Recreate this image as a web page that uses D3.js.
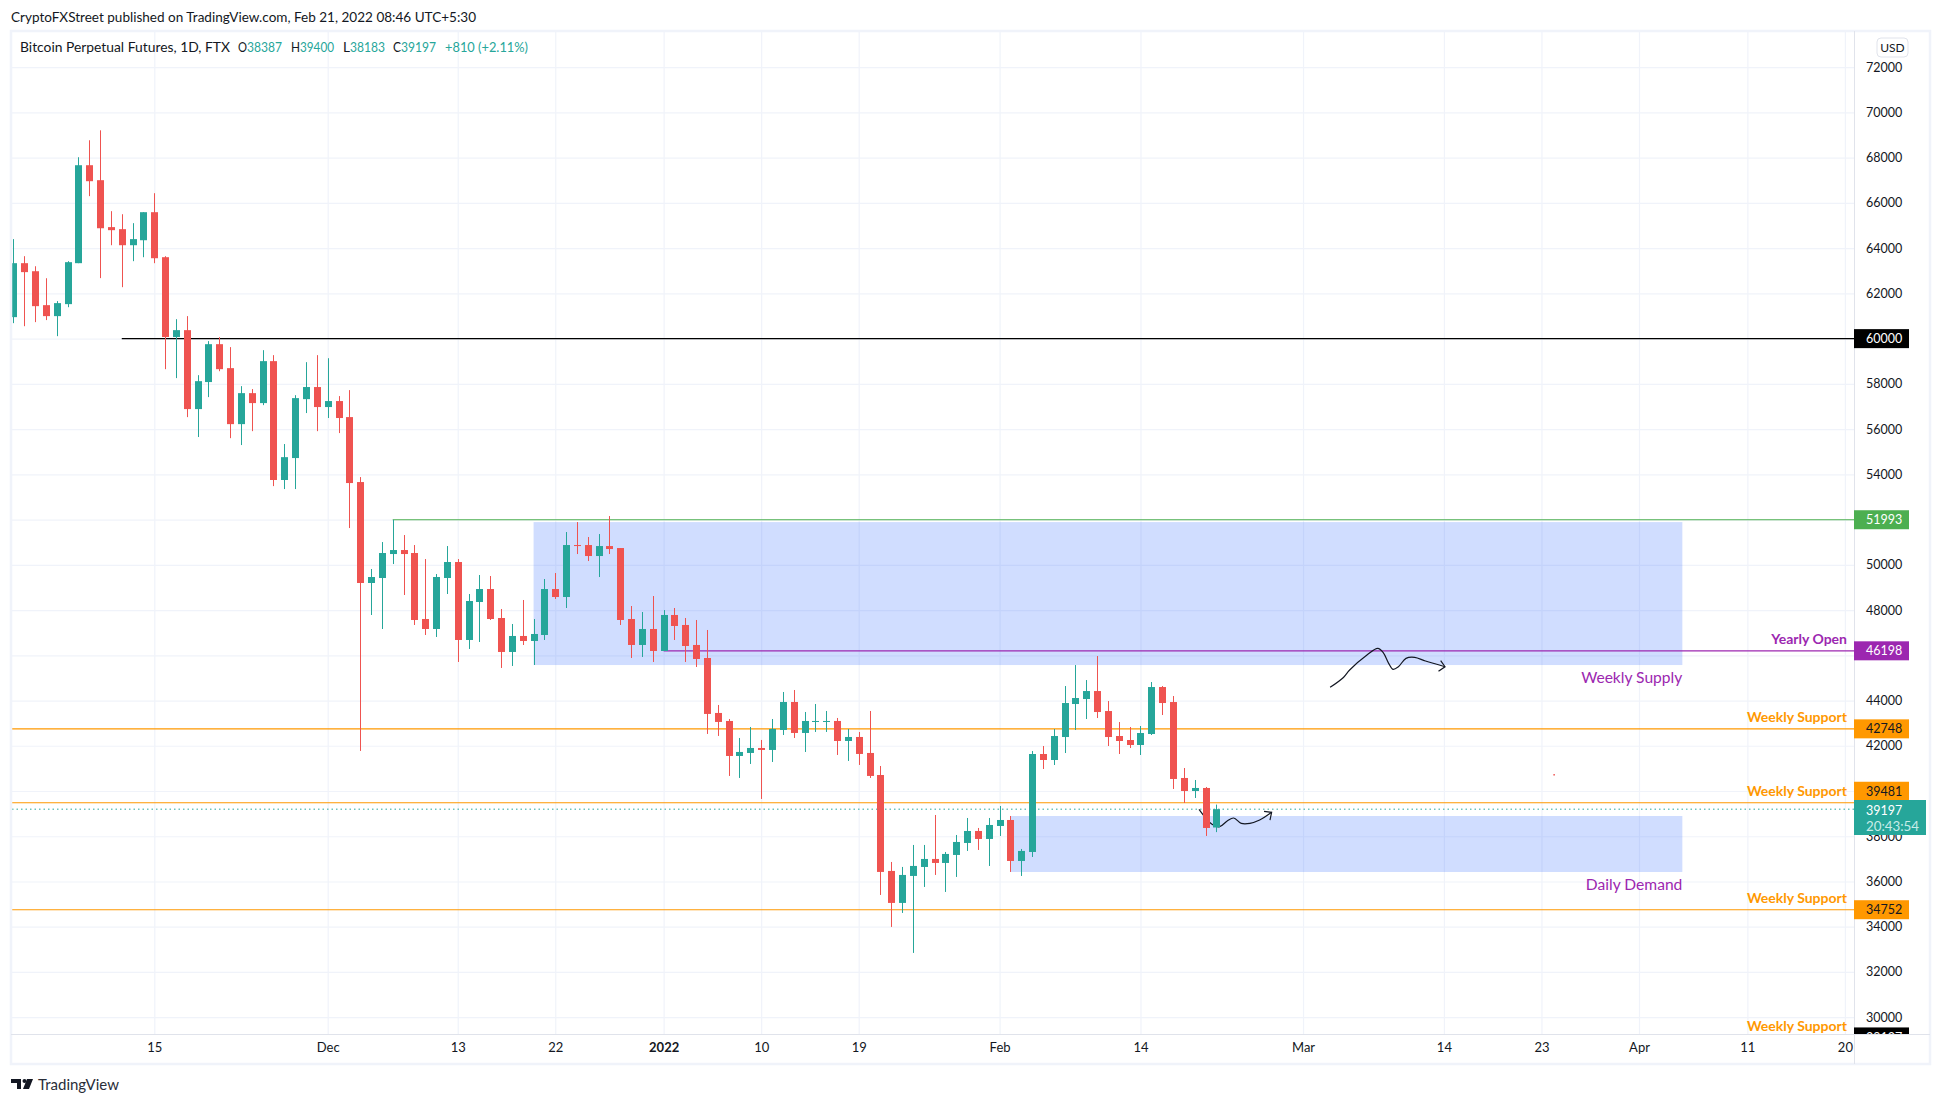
<!DOCTYPE html>
<html>
<head>
<meta charset="utf-8">
<script src="https://cdn.jsdelivr.net/npm/d3@7"></script>
<style>
  html, body { margin: 0; padding: 0; background: #fff; }
  svg { display: block; }
  text { font-family: Lato, "Noto Sans", sans-serif; }
</style>
</head>
<body>
<svg id="chart" width="1941" height="1104"></svg>
<script>
// daily candles, first one is 2 Nov 2021
const firstDay = new Date(Date.UTC(2021, 10, 2));
const opens = [60950,63336,62980,61480,60995,61525,63336,67667,67005,64930,64840,64130,64350,65590,63600,60070,60375,56885,58080,59755,58695,56220,57590,57150,59005,53750,54720,57325,57860,56975,57240,56531,53659,49196,49417,50477,50654,50522,47605,47163,49417,50124,46677,48356,48930,47649,46147,46854,46633,46898,48930,48577,50875,50875,50389,50830,50742,47605,46456,47163,46191,47782,47340,46456,45881,43451,43096,41549,41682,41903,41815,42698,43936,42566,43052,43052,43096,42212,42389,41682,40708,36466,35052,36245,36642,36996,36819,37173,37703,38233,37880,38454,38719,36907,37305,41636,41371,42387,43846,44067,44420,43536,42432,42255,42034,42520,44597,43934,40576,40001,40134,38387];
const closes = [63336,62940,61436,60995,61570,63380,67667,66960,64880,64795,64130,64400,65590,63555,60070,60375,56885,58120,59755,58650,56220,57590,57150,59005,53750,54760,57370,57860,56975,57240,56490,53615,49196,49461,50522,50654,50477,47561,47163,49461,50124,46677,48400,48930,47605,46147,46854,46633,46942,48930,48577,50875,50830,50389,50830,50698,47561,46456,47163,46191,47782,47296,46411,45837,43407,43053,41549,41726,41903,41815,42743,43936,42566,43096,43096,43096,42212,42389,41638,40666,36422,35052,36289,36687,36996,36819,37217,37747,38233,37880,38498,38719,36907,37350,41636,41371,42431,43890,44111,44420,43492,42387,42211,42034,42564,44597,43890,40532,40001,40134,38366,39197];
const highs = [64400,63645,63200,62670,61660,63425,68020,68770,69210,65635,65500,65105,65590,66430,63645,60860,60995,58385,59890,60065,59625,57900,57770,59490,59270,55340,57500,58960,59270,59135,57460,57724,53880,49815,51007,51990,51317,50875,50256,49593,50830,50256,48710,49550,49505,48047,47384,48445,47605,49373,49638,51450,51891,51229,51361,52156,50742,48179,47914,48621,47999,48091,47649,47561,47119,43804,43184,42345,42831,42257,43184,44378,44466,43494,43847,43538,43229,42743,42610,43538,41106,36863,36643,37615,37615,38940,37305,38056,38808,38366,38808,39338,38896,37438,41768,41989,42741,44641,45569,44906,45967,43978,43050,42829,42874,44818,44641,44199,41017,40487,40178,39400];
const lows = [60685,60550,60730,60820,60110,61390,63336,66300,62675,64130,62275,63425,63600,63336,58650,58255,56530,55650,57415,58560,55600,55295,55910,57060,53480,53350,53350,56710,55910,56490,55825,51626,41772,47782,47163,50035,48666,47340,46898,46810,48710,45705,46280,46588,47561,45440,45528,46456,45572,46677,48489,48091,50477,50168,49461,50477,47340,45881,45926,45705,46191,46677,45705,45484,42523,42435,40666,40577,41196,39649,41284,42477,42345,41726,42610,42610,41594,41329,41152,40577,35405,33991,34610,32842,35759,36289,35538,36201,37350,37394,36686,38012,36422,36245,37084,40973,41150,41680,42697,43183,43227,41990,41636,41901,41592,42476,43360,40090,39471,39692,38013,38183];

// axis ticks, the covered ones have no label in the picture
const priceTicks = d3.range(30000, 72001, 2000);
const coveredTicks = [60000, 52000, 46000, 40000];
const timeTickDates = ["2021-11-15","2021-12-01","2021-12-13","2021-12-22","2022-01-01","2022-01-10","2022-01-19","2022-02-01","2022-02-14","2022-03-01","2022-03-14","2022-03-23","2022-04-01","2022-04-11","2022-04-20"];
const timeTickLabels = ["15","Dec","13","22","2022","10","19","Feb","14","Mar","14","23","Apr","11","20"];

// levels, startDay is counted from firstDay
const levelNames = ["60000","51993","46198","42748","39481","34752"];
const levelPrices = [60000,51993,46198,42748,39481,34752];
const levelStartDays = [10,35,60,0,0,0];
const levelColors = ["#000000","#4caf50","#9c27b0","#ff9800","#ff9800","#ff9800"];
const levelTextColors = ["#ffffff","#ffffff","#ffffff","#131722","#131722","#131722"];

// zones as [startDay, endDay, topPrice, bottomPrice]
const zones = [[48,154,51889,45569],[92,154,38895,36420]];
const zoneNames = ["Weekly Supply","Daily Demand"];

// hand drawn arrows as [day, price]
const arrowOne = [[121.5,44583],[122.7,45008],[123.3,45348],[124.9,46011],[125.9,46307],[126.4,46113],[126.9,45644],[127.3,45378],[127.8,45494],[128.5,45864],[129.3,45908],[130.3,45746],[132.1,45494]];
const arrowOneHead = [[131.7,45760],[132.1,45494],[131.5,45290]];
const arrowTwo = [[109.4,39190],[110.6,38528],[111.3,38422],[112,38673],[112.6,38806],[113.3,38572],[114.1,38572],[115,38717],[116.1,39058]];
const arrowTwoHead = [[115.4,39102],[116.1,39058],[115.95,38717]];
const strayDot = [142.1, 40750];

const lastPrice = 39197;
const hiddenLevel = 29127;

const plotLeft = 12, plotRight = 1854, plotTop = 32, plotBottom = 1034;

const dayAt = n => new Date(+firstDay + n * 864e5);
const x = d3.scaleUtc().domain([dayAt(0), dayAt(169)]).range([13.4, 1844.9]);
const y = d3.scaleLinear().domain([30000, 72000]).range([1017.2, 67.2]);

const up = "#26a69a", down = "#ef5350", gridColor = "#f0f3fa", lineColor = "#e0e3eb", textColor = "#131722";
const fontSize = 12.5;

const svg = d3.select("#chart");

svg.append("defs").append("clipPath").attr("id", "plot")
  .append("rect")
  .attr("x", plotLeft).attr("y", plotTop)
  .attr("width", plotRight - plotLeft).attr("height", plotBottom - plotTop);

// title above the frame
svg.append("text").attr("x", 11).attr("y", 22)
  .attr("font-size", 14).attr("fill", "#131722")
  .attr("textLength", 465).attr("lengthAdjust", "spacingAndGlyphs")
  .text("CryptoFXStreet published on TradingView.com, Feb 21, 2022 08:46 UTC+5:30");

// grid, built from the axes
const timeDates = timeTickDates.map(d => new Date(d + "T00:00:00Z"));

svg.append("g").attr("transform", `translate(0,${plotBottom})`)
  .call(d3.axisBottom(x).tickValues(timeDates).tickSize(plotTop - plotBottom).tickFormat(""))
  .call(g => g.select(".domain").remove())
  .call(g => g.selectAll("text").remove())
  .call(g => g.selectAll("line").attr("stroke", gridColor).attr("stroke-width", 1.2));

svg.append("g").attr("transform", `translate(${plotLeft},0)`)
  .call(d3.axisRight(y).tickValues(priceTicks).tickSize(plotRight - plotLeft).tickFormat(""))
  .call(g => g.select(".domain").remove())
  .call(g => g.selectAll("text").remove())
  .call(g => g.selectAll("line").attr("stroke", gridColor).attr("stroke-width", 1.2));

const plot = svg.append("g").attr("clip-path", "url(#plot)");

// blue zones
plot.selectAll(".zone").data(zones).enter().append("rect")
  .attr("class", "zone")
  .attr("x", d => x(dayAt(d[0])))
  .attr("y", d => y(d[2]))
  .attr("width", d => x(dayAt(d[1])) - x(dayAt(d[0])))
  .attr("height", d => y(d[3]) - y(d[2]))
  .attr("fill", "#2962ff").attr("fill-opacity", 0.22);

// horizontal levels
plot.selectAll(".level").data(levelPrices).enter().append("line")
  .attr("class", "level")
  .attr("x1", (d, i) => levelStartDays[i] ? x(dayAt(levelStartDays[i])) : plotLeft)
  .attr("x2", plotRight)
  .attr("y1", d => y(d)).attr("y2", d => y(d))
  .attr("stroke", (d, i) => levelColors[i]).attr("stroke-width", 1.15);

// last price dotted line
plot.append("line")
  .attr("x1", plotLeft).attr("x2", plotRight)
  .attr("y1", y(lastPrice)).attr("y2", y(lastPrice))
  .attr("stroke", up).attr("stroke-width", 1).attr("stroke-dasharray", "1.5 3");

// hand drawn arrows
const arrowLine = d3.line().x(d => x(dayAt(d[0]))).y(d => y(d[1])).curve(d3.curveCatmullRom);
const straightLine = d3.line().x(d => x(dayAt(d[0]))).y(d => y(d[1]));
[arrowOne, arrowTwo].forEach(pts => {
  plot.append("path").attr("d", arrowLine(pts))
    .attr("fill", "none").attr("stroke", "#131722").attr("stroke-width", 1.2);
});
[arrowOneHead, arrowTwoHead].forEach(pts => {
  plot.append("path").attr("d", straightLine(pts))
    .attr("fill", "none").attr("stroke", "#131722").attr("stroke-width", 1.2);
});
plot.append("rect")
  .attr("x", x(dayAt(strayDot[0]))).attr("y", y(strayDot[1]))
  .attr("width", 1.5).attr("height", 1.5).attr("fill", down);

// candles
const candles = plot.selectAll(".candle").data(opens).enter().append("g").attr("class", "candle");
const cx = i => Math.round(x(dayAt(i)));

candles.append("rect")
  .attr("x", (d, i) => cx(i))
  .attr("y", (d, i) => y(highs[i]))
  .attr("width", 1)
  .attr("height", (d, i) => y(lows[i]) - y(highs[i]))
  .attr("fill", (d, i) => closes[i] >= opens[i] ? up : down);

candles.append("rect")
  .attr("x", (d, i) => cx(i) - 3)
  .attr("y", (d, i) => y(Math.max(opens[i], closes[i])))
  .attr("width", 7)
  .attr("height", (d, i) => Math.max(1, Math.abs(y(opens[i]) - y(closes[i]))))
  .attr("fill", (d, i) => closes[i] >= opens[i] ? up : down);

// zone names
svg.selectAll(".zoneName").data(zoneNames).enter().append("text")
  .attr("class", "zoneName")
  .attr("x", (d, i) => x(dayAt(zones[i][1])))
  .attr("y", (d, i) => y(zones[i][3]) + 18)
  .attr("text-anchor", "end")
  .attr("font-size", 15.6).attr("fill", "#9c27b0")
  .text(d => d);

// level names above the right end of the lines
const levelNotes = [["Yearly Open",46198,"#9c27b0"],["Weekly Support",42748,"#ff9800"],["Weekly Support",39481,"#ff9800"],["Weekly Support",34752,"#ff9800"],["Weekly Support",hiddenLevel,"#ff9800"]];
svg.selectAll(".levelNote").data(levelNotes).enter().append("text")
  .attr("class", "levelNote")
  .attr("x", 1847)
  .attr("y", d => d[1] === hiddenLevel ? 1031 : y(d[1]) - 7)
  .attr("text-anchor", "end")
  .attr("font-size", 14).attr("font-weight", 700).attr("fill", d => d[2])
  .text(d => d[0]);

// frame and axis lines
svg.append("rect").attr("x", 11).attr("y", 31).attr("width", 1919).attr("height", 1033)
  .attr("fill", "none").attr("stroke", gridColor).attr("stroke-width", 2.5);
svg.append("line").attr("x1", 11).attr("x2", 1930).attr("y1", plotBottom + 0.5).attr("y2", plotBottom + 0.5)
  .attr("stroke", lineColor);
svg.append("line").attr("x1", plotRight + 0.5).attr("x2", plotRight + 0.5).attr("y1", 31).attr("y2", 1064)
  .attr("stroke", lineColor);

// price axis
svg.append("g").attr("transform", `translate(${plotRight},0)`)
  .call(d3.axisRight(y).tickValues(priceTicks).tickSize(0).tickPadding(12)
    .tickFormat(d => coveredTicks.includes(d) ? "" : d3.format("d")(d)))
  .call(g => g.select(".domain").remove())
  .call(g => g.selectAll("text").filter(d => coveredTicks.includes(d)).remove())
  .call(g => g.selectAll("text").attr("font-size", fontSize).attr("fill", textColor).style("font-family", "Lato, sans-serif"));

// time axis
svg.append("g").attr("transform", `translate(0,${plotBottom})`)
  .call(d3.axisBottom(x).tickValues(timeDates).tickSize(0).tickPadding(9).tickFormat((d, i) => timeTickLabels[i]))
  .call(g => g.select(".domain").remove())
  .call(g => g.selectAll("text")
    .attr("font-size", 13).attr("fill", textColor).style("font-family", "Lato, sans-serif")
    .attr("font-weight", (d, i) => timeTickLabels[i] === "2022" ? 700 : 400));

// price labels on the axis
const labelH = 19, labelW = 55;
const labelTop = (d, i) => levelPrices[i] === 39481 ? y(d) - 21 : y(d) - labelH / 2;
const labels = svg.selectAll(".priceLabel").data(levelPrices).enter().append("g").attr("class", "priceLabel");
labels.append("rect")
  .attr("x", plotRight).attr("y", labelTop)
  .attr("width", labelW).attr("height", labelH)
  .attr("fill", (d, i) => levelColors[i]);
labels.append("text")
  .attr("x", plotRight + 12)
  .attr("y", (d, i) => labelTop(d, i) + 14)
  .attr("font-size", fontSize).attr("fill", (d, i) => levelTextColors[i])
  .text((d, i) => levelNames[i]);

// bottom level label, cut by the time axis
svg.append("defs").append("clipPath").attr("id", "priceScale")
  .append("rect").attr("x", plotRight).attr("y", plotTop).attr("width", 80).attr("height", plotBottom - plotTop);
const cut = svg.append("g").attr("clip-path", "url(#priceScale)");
cut.append("rect").attr("x", plotRight).attr("y", y(hiddenLevel) - labelH / 2)
  .attr("width", labelW).attr("height", labelH).attr("fill", "#000");
cut.append("text").attr("x", plotRight + 12).attr("y", y(hiddenLevel) + 5)
  .attr("font-size", fontSize).attr("fill", "#fff").text(d3.format("d")(hiddenLevel));

// last price label
svg.append("rect").attr("x", plotRight).attr("y", 800).attr("width", 72).attr("height", 35).attr("fill", up);
svg.append("text").attr("x", plotRight + 12).attr("y", 815)
  .attr("font-size", fontSize).attr("fill", "#fff").text(lastPrice);
svg.append("text").attr("x", plotRight + 12).attr("y", 831)
  .attr("font-size", fontSize).attr("fill", "#c8ece8")
  .attr("textLength", 53).attr("lengthAdjust", "spacingAndGlyphs").text("20:43:54");

// currency button
svg.append("rect").attr("x", 1877).attr("y", 38).attr("width", 31).attr("height", 19).attr("rx", 4)
  .attr("fill", "#fff").attr("stroke", lineColor);
svg.append("text").attr("x", 1892.5).attr("y", 52).attr("text-anchor", "middle")
  .attr("font-size", 12).attr("fill", textColor).text("USD");

// legend line: x, text, colour, width
const legendParts = [
  [20, "Bitcoin Perpetual Futures, 1D, FTX", textColor, 210],
  [238, "O", textColor, 9], [247, "38387", up, 35],
  [291, "H", textColor, 9], [300, "39400", up, 34],
  [343, "L", textColor, 7], [350, "38183", up, 35],
  [393, "C", textColor, 8], [401, "39197", up, 35],
  [445, "+810 (+2.11%)", up, 83]
];
svg.selectAll(".legendPart").data(legendParts).enter().append("text")
  .attr("class", "legendPart")
  .attr("x", d => d[0]).attr("y", 52)
  .attr("font-size", 13.5).attr("fill", d => d[2])
  .attr("textLength", d => d[3]).attr("lengthAdjust", "spacingAndGlyphs")
  .text(d => d[1]);

// logo
const logo = svg.append("g").attr("fill", "#131722");
logo.append("path").attr("d", "M11 1079h10v10h-4v-6h-6z");
logo.append("circle").attr("cx", 24.5).attr("cy", 1081).attr("r", 2);
logo.append("path").attr("d", "M27 1079h6l-4 10h-6z");
svg.append("text").attr("x", 38).attr("y", 1090)
  .attr("font-size", 15).attr("fill", "#2a2e39").text("TradingView");
</script>
</body>
</html>
